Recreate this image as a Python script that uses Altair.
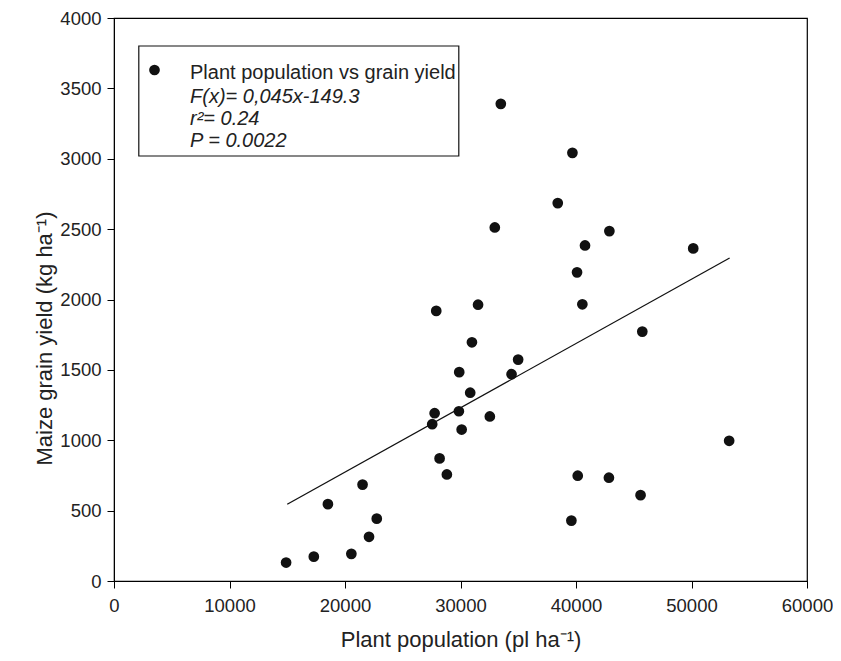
import altair as alt
import pandas as pd

# Data
plant_population = [14900, 17300, 20550, 22080, 22750, 18520, 21520, 28190, 28820,
                    27550, 27760, 29860, 30100, 32540, 30840, 29890, 30990, 34420,
                    34990, 27900, 31520, 32970, 33490, 38420, 39690, 40090, 40550,
                    40780, 42890, 50150, 45740, 53260, 40150, 42850, 45590, 39600]
grain_yield = [131, 173, 193, 314, 443, 546, 685, 871, 757,
               1114, 1192, 1206, 1076, 1169, 1338, 1484, 1696, 1469,
               1573, 1919, 1963, 2512, 3390, 2685, 3042, 2193, 1966,
               2384, 2486, 2363, 1772, 996, 748, 734, 610, 429]

fit_x = [15000, 53300]
fit_y = [545, 2295]

x_ticks = [0, 10000, 20000, 30000, 40000, 50000, 60000]
y_ticks = [0, 500, 1000, 1500, 2000, 2500, 3000, 3500, 4000]

legend_lines = ["Plant population vs grain yield", "F(x)= 0,045x-149.3", "r²= 0.24", "P = 0.0022"]

FONT = "Liberation Sans"

pts = pd.DataFrame({"x": plant_population, "y": grain_yield})
fit = pd.DataFrame({"x": fit_x, "y": fit_y})

xscale = alt.Scale(domain=[0, 60000], nice=False, zero=False)
yscale = alt.Scale(domain=[0, 4000], nice=False, zero=False)

xaxis = alt.Axis(values=x_ticks, format="d", title="Plant population (pl ha⁻¹)",
                 grid=False, tickSize=7, tickColor="black", domainColor="black",
                 labelFlush=False,
                 labelFont=FONT, labelFontSize=18.5, labelColor="#222", labelPadding=8,
                 titleFont=FONT, titleFontSize=22, titleFontWeight="normal", titleColor="#222",
                 titleY=65, titleBaseline="alphabetic")
yaxis = alt.Axis(values=y_ticks, format="d", title="Maize grain yield (kg ha⁻¹)",
                 grid=False, tickSize=7, tickColor="black", domainColor="black",
                 labelFlush=False,
                 labelFont=FONT, labelFontSize=18.5, labelColor="#222", labelPadding=6,
                 titleFont=FONT, titleFontSize=22, titleFontWeight="normal", titleColor="#222",
                 titleX=-63, titleY=320, titleAngle=-90, titleBaseline="alphabetic", titleAlign="center")

points = alt.Chart(pts).mark_circle(size=115, color="#111", opacity=1).encode(
    x=alt.X("x:Q", scale=xscale, axis=xaxis),
    y=alt.Y("y:Q", scale=yscale, axis=yaxis),
)

line = alt.Chart(fit).mark_line(color="#111", strokeWidth=1.3).encode(
    x=alt.X("x:Q", scale=xscale),
    y=alt.Y("y:Q", scale=yscale),
)

one = pd.DataFrame({"k": [0]})
box = alt.Chart(one).mark_rect(fill="white", stroke="#111", strokeWidth=1.2).encode(
    x=alt.value(24.8), x2=alt.value(344.8), y=alt.value(28), y2=alt.value(138)
)
bullet = alt.Chart(one).mark_circle(size=115, color="#111", opacity=1).encode(
    x=alt.value(40.5), y=alt.value(52)
)

layers = [points, line, box, bullet]
baselines = [61, 85, 107, 129]
for i, (txt, yb) in enumerate(zip(legend_lines, baselines)):
    t = alt.Chart(pd.DataFrame({"t": [txt]})).mark_text(
        align="left", baseline="alphabetic", font=FONT, fontSize=20,
        fontStyle="normal" if i == 0 else "italic", color="#222"
    ).encode(x=alt.value(76), y=alt.value(yb), text="t:N")
    layers.append(t)

chart = alt.layer(*layers).properties(
    width=693, height=563,
    autosize=alt.AutoSizeParams(type="none"),
    padding={"left": 106, "top": 10, "right": 26, "bottom": 72},
).configure_view(stroke="black", strokeWidth=1.2)

chart.save("out.html", embed_options={"renderer": "svg", "actions": False})
